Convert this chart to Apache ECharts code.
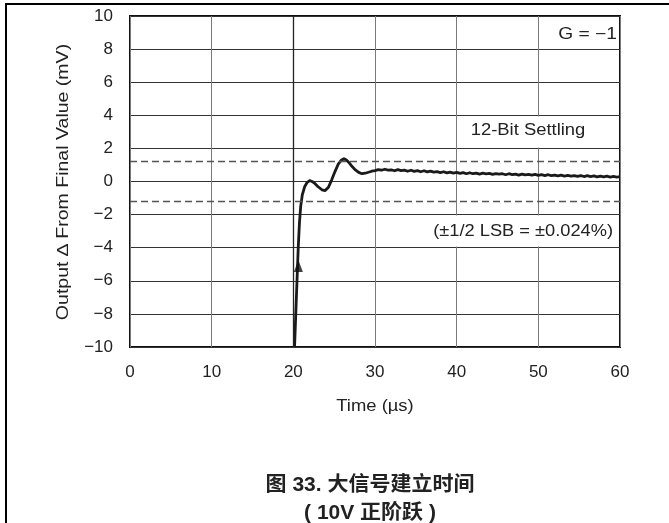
<!DOCTYPE html>
<html>
<head>
<meta charset="utf-8">
<script src="https://cdn.jsdelivr.net/npm/echarts@6/dist/echarts.min.js"></script>
<style>
html,body{margin:0;padding:0;background:#fff;}
#chart{width:669px;height:523px;}
</style>
</head>
<body>
<div id="chart"></div>
<script>
// ---- data ----
var xTicks = [0, 10, 20, 30, 40, 50, 60];
var yTicks = [-10, -8, -6, -4, -2, 0, 2, 4, 6, 8, 10];
var timeUs = [
  20.15, 20.3, 20.45, 20.6, 20.75, 20.9, 21.1, 21.4, 21.7, 22.0,
  22.3, 22.6, 23.0, 23.5, 23.9, 24.3, 24.7, 25.1, 25.5, 25.9,
  26.2, 26.5, 26.8, 27.2, 27.6, 28.0, 28.4, 28.8, 29.2, 29.6,
  30.0, 30.4, 30.8, 31.2, 31.6, 32.0, 32.4, 32.8, 33.2, 33.6,
  34.0, 34.4, 34.8, 35.2, 35.6, 36.0, 36.4, 36.8, 37.2, 37.6,
  38.0, 38.4, 38.8, 39.2, 39.6, 40.0, 40.4, 40.8, 41.2, 41.6,
  42.0, 42.4, 42.8, 43.2, 43.6, 44.0, 44.4, 44.8, 45.2, 45.6,
  46.0, 46.4, 46.8, 47.2, 47.6, 48.0, 48.4, 48.8, 49.2, 49.6,
  50.0, 50.4, 50.8, 51.2, 51.6, 52.0, 52.4, 52.8, 53.2, 53.6,
  54.0, 54.4, 54.8, 55.2, 55.6, 56.0, 56.4, 56.8, 57.2, 57.6,
  58.0, 58.4, 58.8, 59.2, 59.6, 60.0
];
var outputMv = [
  -10, -8, -6, -4, -2.5, -1.5, -0.8, -0.3, -0.05, 0.05,
  0.0, -0.1, -0.3, -0.5, -0.55, -0.35, 0.1, 0.6, 1.05, 1.3,
  1.38, 1.3, 1.15, 0.9, 0.7, 0.55, 0.47, 0.5, 0.56, 0.62,
  0.66, 0.72, 0.68, 0.74, 0.69, 0.70, 0.65, 0.72, 0.66, 0.69,
  0.62, 0.68, 0.61, 0.66, 0.59, 0.65, 0.58, 0.63, 0.57, 0.60,
  0.54, 0.59, 0.52, 0.57, 0.51, 0.55, 0.49, 0.54, 0.47, 0.53,
  0.47, 0.51, 0.45, 0.50, 0.46, 0.49, 0.43, 0.48, 0.44, 0.47,
  0.41, 0.47, 0.42, 0.45, 0.39, 0.45, 0.40, 0.43, 0.38, 0.43,
  0.37, 0.41, 0.36, 0.41, 0.35, 0.39, 0.34, 0.38, 0.33, 0.37,
  0.33, 0.36, 0.31, 0.36, 0.30, 0.35, 0.30, 0.34, 0.28, 0.33,
  0.28, 0.32, 0.27, 0.31, 0.27, 0.29
];
var settleBand = [1.22, -1.22];
var arrowPoint = [[20.62, -5.1]];
var xName = 'Time (\u00b5s)';
var yName = 'Output \u2206 From Final Value (mV)';
var gainNote = 'G = \u22121';
var settleNote = '12-Bit Settling';
var lsbNote = '(\u00b11/2 LSB = \u00b10.024%)';
var caption1 = '\u56fe 33. \u5927\u4fe1\u53f7\u5efa\u7acb\u65f6\u95f4';
var caption2 = '( 10V \u6b63\u9636\u8dc3 )';

var lineData = timeUs.map(function (t, i) { return [t, outputMv[i]]; });
function fmt(v) { return v < 0 ? '\u2212' + Math.abs(v) : String(v); }

var font = '"Liberation Sans", Arial, sans-serif';
var capFont = 'bold 20px "Liberation Sans", "Noto Sans CJK SC", sans-serif';
function txt(x, y, s, align, size, sx, rot, f) {
  return {type: 'text', z: 5, x: x, y: y, scaleX: sx || 1, rotation: rot || 0,
    style: {x: 0, y: 0, text: s, textAlign: align, textVerticalAlign: 'middle',
      font: f || (size + 'px ' + font), fill: '#222'}};
}

var chart = echarts.init(document.getElementById('chart'), null, {renderer: 'canvas'});
chart.setOption({
  animation: false,
  backgroundColor: '#fff',
  grid: {left: 130, top: 16, right: 49, bottom: 176, show: true,
         borderColor: '#111', borderWidth: 2, backgroundColor: 'transparent'},
  xAxis: {
    type: 'value', min: 0, max: 60, interval: 10,
    axisLine: {show: false}, axisTick: {show: false},
    axisLabel: {fontFamily: font, fontSize: 17, color: '#222', margin: 17, formatter: fmt},
    splitLine: {show: true, lineStyle: {color: '#7a7a7a', width: 1}}
  },
  yAxis: {
    type: 'value', min: -10, max: 10, interval: 2,
    axisLine: {show: false}, axisTick: {show: false},
    axisLabel: {fontFamily: font, fontSize: 17, color: '#222', margin: 17, formatter: fmt},
    splitLine: {show: true, lineStyle: {color: '#333', width: 1}}
  },
  graphic: [
    {type: 'line', z: 10, shape: {x1: 5, y1: 4, x2: 669, y2: 4}, style: {stroke: '#000', lineWidth: 2}},
    {type: 'line', z: 10, shape: {x1: 6, y1: 4, x2: 6, y2: 523}, style: {stroke: '#000', lineWidth: 2}},
    {type: 'rect', z: 1, shape: {x: 461, y: 116.5, width: 157, height: 31}, style: {fill: '#fff'}},
    {type: 'rect', z: 1, shape: {x: 428, y: 215.5, width: 190, height: 31}, style: {fill: '#fff'}},
    txt(617, 35, gainNote, 'right', 16, 1.2),
    txt(528, 131, settleNote, 'center', 16, 1.15),
    txt(613, 232, lsbNote, 'right', 16, 1.14),
    txt(375, 407, xName, 'center', 16, 1.15),
    txt(64, 182, yName, 'center', 16, 1.22, Math.PI / 2),
    txt(370, 485, caption1, 'center', 20, 1.05, 0, capFont),
    txt(370, 513, caption2, 'center', 20, 1.05, 0, capFont)
  ],
  series: [
    {
      type: 'line', data: [], silent: true, z: 1,
      markLine: {
        silent: true, symbol: 'none', label: {show: false}, animation: false,
        data: [
          {xAxis: 20, lineStyle: {color: '#222', width: 1.3, type: 'solid'}},
          {yAxis: settleBand[0], lineStyle: {color: '#555', width: 1.3, type: [7, 4]}},
          {yAxis: settleBand[1], lineStyle: {color: '#555', width: 1.3, type: [7, 4]}}
        ]
      }
    },
    {
      type: 'line', data: lineData, showSymbol: false, silent: true, z: 3,
      lineStyle: {color: '#1a1a1a', width: 2.8, join: 'round'}
    },
    {
      type: 'scatter', data: arrowPoint, symbol: 'triangle', symbolSize: [9, 12], z: 4,
      itemStyle: {color: '#111'}, silent: true
    }
  ]
});
</script>
</body>
</html>
